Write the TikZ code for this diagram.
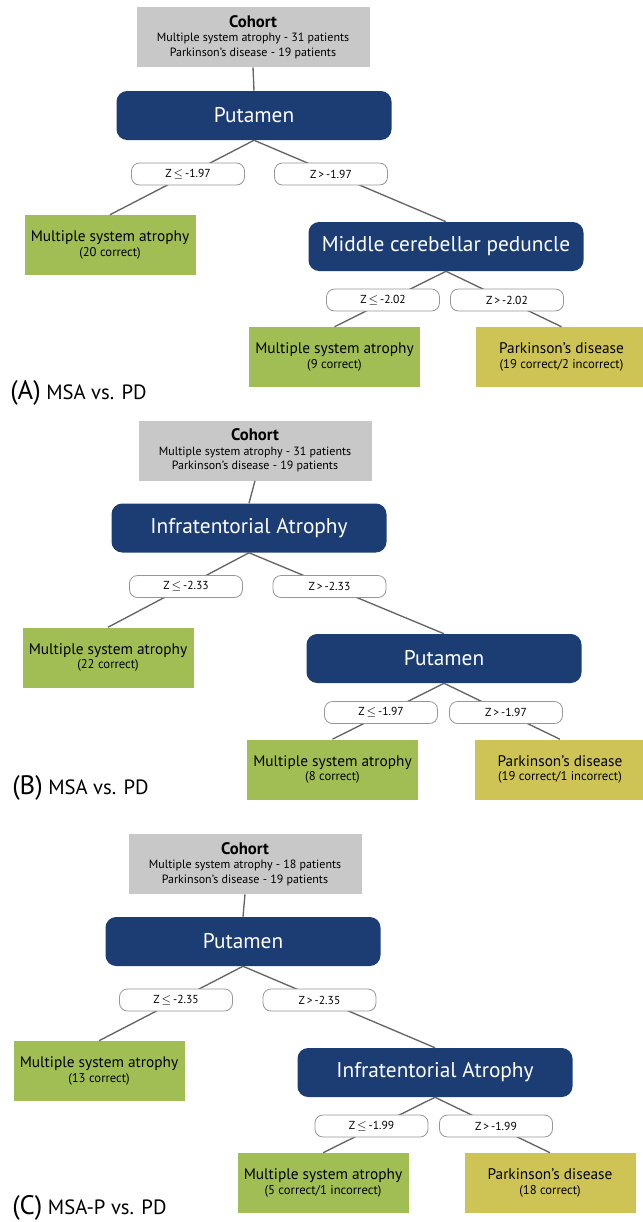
\documentclass[tikz,border=0pt]{standalone}
\usepackage{fontspec}
\setmainfont{PT Sans}

\definecolor{cohortgray}{RGB}{200,200,200}
\definecolor{splitnavy}{RGB}{27,61,116}
\definecolor{msagreen}{RGB}{161,190,84}
\definecolor{pdyellow}{RGB}{206,196,86}
\definecolor{edgegray}{RGB}{100,100,100}
\definecolor{zgray}{RGB}{150,150,155}

\tikzset{
  cohort/.style={fill=cohortgray, minimum width=174.75pt, minimum height=45pt, inner sep=0pt, align=center, font=\fontsize{9}{11}\selectfont},
  split/.style={fill=splitnavy, rounded corners=8pt, minimum width=206.25pt, minimum height=36.75pt, inner sep=0pt, text=white, font=\fontsize{16}{18}\selectfont},
  zbox/.style={draw=zgray, line width=0.6pt, fill=white, rounded corners=6pt, minimum width=84.75pt, minimum height=16.5pt, inner sep=0pt, font=\fontsize{8.7}{10}\selectfont},
  leaf/.style={minimum width=128.25pt, minimum height=45pt, inner sep=0pt, align=center, font=\fontsize{9.5}{11}\selectfont},
  msaleaf/.style={leaf, fill=msagreen},
  pdleaf/.style={leaf, fill=pdyellow},
  edge/.style={draw=edgegray, line width=1pt},
  paneltag/.style={inner sep=0pt, anchor=base west, font=\fontsize{15.5}{17}\selectfont}
}
\newcommand{\leafhead}[1]{{\fontsize{11.5}{11}\selectfont #1}}
\newcommand{\cohorthead}{{\fontsize{12.5}{14}\selectfont\bfseries Cohort}}
\newcommand{\tagletter}[1]{{\fontsize{20}{20}\selectfont(#1)}}
\newcommand{\zle}[1]{Z\,$\leq$\,#1}
\newcommand{\zgt}[1]{Z\,>\,#1}

\begin{document}
\begin{tikzpicture}[x=0.75pt,y=0.75pt,yscale=-1,xscale=1]
\path[use as bounding box] (0,0) rectangle (643,1222);

% (A) MSA vs. PD
\node[cohort] (cohA) at (253,37) {\cohorthead\\Multiple system atrophy - 31 patients\\Parkinson’s disease - 19 patients};
\node[split] (putA) at (254,115.5) {Putamen};
\node[msaleaf] (msaA1) at (110,245) {\leafhead{Multiple system atrophy}\\(20 correct)};
\node[split] (mcpA) at (446,246.5) {Middle cerebellar peduncle};
\node[msaleaf] (msaA2) at (334.5,357) {\leafhead{Multiple system atrophy}\\(9 correct)};
\node[pdleaf] (pdA) at (561.5,357) {\leafhead{Parkinson’s disease}\\(19 correct/2 incorrect)};
\draw[edge] (cohA.south) -- (putA.north);
\draw[edge] (putA.south) -- (msaA1.north);
\draw[edge] (putA.south) -- (mcpA.north);
\draw[edge] (mcpA.south) -- (msaA2.north);
\draw[edge] (mcpA.south) -- (pdA.north);
\node[zbox] (zA1) at (188,174) {\zle{-1.97}};
\node[zbox] (zA2) at (331,174) {\zgt{-1.97}};
\node[zbox] (zA3) at (383,300) {\zle{-2.02}};
\node[zbox] (zA4) at (507,300) {\zgt{-2.02}};
\node[paneltag] (tagA) at (10,399) {\tagletter{A} MSA vs. PD};

% (B) MSA vs. PD
\node[cohort] (cohB) at (255,450.5) {\cohorthead\\Multiple system atrophy - 31 patients\\Parkinson’s disease - 19 patients};
\node[split] (infB) at (249,528) {Infratentorial Atrophy};
\node[msaleaf] (msaB1) at (108,657.5) {\leafhead{Multiple system atrophy}\\(22 correct)};
\node[split] (putB) at (444,658.5) {Putamen};
\node[msaleaf] (msaB2) at (332.5,769.5) {\leafhead{Multiple system atrophy}\\(8 correct)};
\node[pdleaf] (pdB) at (560,769.5) {\leafhead{Parkinson’s disease}\\(19 correct/1 incorrect)};
\draw[edge] (cohB.south) -- (infB.north);
\draw[edge] (infB.south) -- (msaB1.north);
\draw[edge] (infB.south) -- (putB.north);
\draw[edge] (putB.south) -- (msaB2.north);
\draw[edge] (putB.south) -- (pdB.north);
\node[zbox] (zB1) at (186,586.5) {\zle{-2.33}};
\node[zbox] (zB2) at (329.5,586.5) {\zgt{-2.33}};
\node[zbox] (zB3) at (381,712.5) {\zle{-1.97}};
\node[zbox] (zB4) at (506,712.5) {\zgt{-1.97}};
\node[paneltag] (tagB) at (12,794) {\tagletter{B} MSA vs. PD};

% (C) MSA-P vs. PD
\node[cohort] (cohC) at (245,864) {\cohorthead\\Multiple system atrophy - 18 patients\\Parkinson’s disease - 19 patients};
\node[split] (putC) at (243,941.5) {Putamen};
\node[msaleaf] (msaC1) at (99,1071) {\leafhead{Multiple system atrophy}\\(13 correct)};
\node[split] (infC) at (435,1072.5) {Infratentorial Atrophy};
\node[msaleaf] (msaC2) at (323,1183) {\leafhead{Multiple system atrophy}\\(5 correct/1 incorrect)};
\node[pdleaf] (pdC) at (550,1183) {\leafhead{Parkinson’s disease}\\(18 correct)};
\draw[edge] (cohC.south) -- (putC.north);
\draw[edge] (putC.south) -- (msaC1.north);
\draw[edge] (putC.south) -- (infC.north);
\draw[edge] (infC.south) -- (msaC2.north);
\draw[edge] (infC.south) -- (pdC.north);
\node[zbox] (zC1) at (176,1000) {\zle{-2.35}};
\node[zbox] (zC2) at (319.5,1000) {\zgt{-2.35}};
\node[zbox] (zC3) at (371.5,1126) {\zle{-1.99}};
\node[zbox] (zC4) at (496,1126) {\zgt{-1.99}};
\node[paneltag] (tagC) at (12,1214) {\tagletter{C} MSA-P vs. PD};

\end{tikzpicture}
\end{document}
